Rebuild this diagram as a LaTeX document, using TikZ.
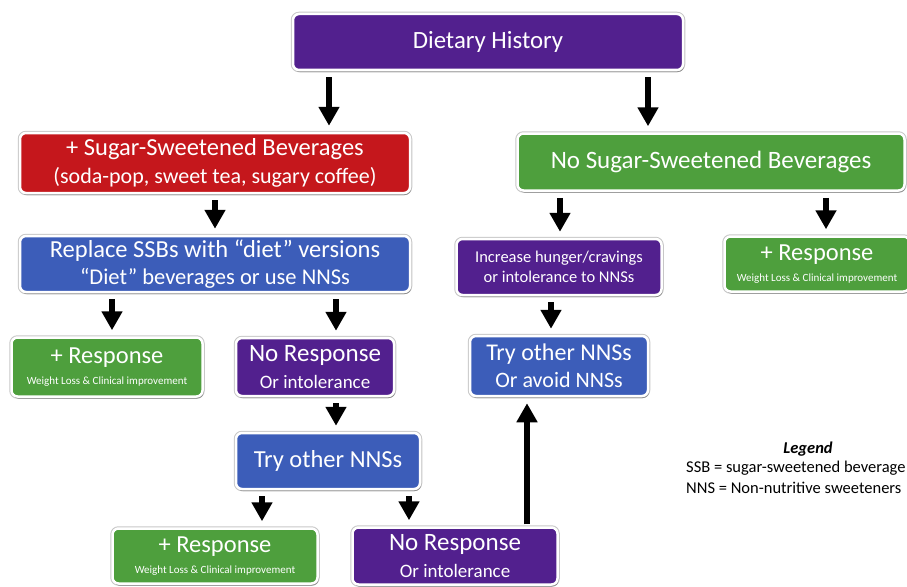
\documentclass[tikz,border=0pt]{standalone}
\usepackage{fontspec}
\setmainfont{Carlito}
\usetikzlibrary{arrows.meta,shadows}

\definecolor{dhpurple}{HTML}{52208E}
\definecolor{dhred}{HTML}{C5171C}
\definecolor{dhgreen}{HTML}{4E9F3D}
\definecolor{dhblue}{HTML}{3C5DB9}

\begin{document}
\begin{tikzpicture}[x=1pt,y=-1pt,
		box/.style={rounded corners=6pt,draw=white,line width=2.5pt,text=white,align=center,inner sep=0pt,
			preaction={draw=black!22,line width=4.5pt},
			drop shadow={shadow xshift=1pt,shadow yshift=-2pt,fill=black,opacity=.3}},
		arr/.style={line width=5.5pt,-{Triangle[width=20pt,length=19pt]},shorten <=6pt,shorten >=6pt},
		fs/.style={font=\fontsize{#1}{#1}\selectfont}]
			\useasboundingbox (0,0) rectangle (907,586);
			% boxes
			\node[box,fill=dhpurple,minimum width=390pt,minimum height=56pt,fs=24.8] (diet) at (488,42) {Dietary History};
			\node[box,fill=dhred,minimum width=390pt,minimum height=60pt,fs=24.5] (ssb) at (215,163)
				{+ Sugar-Sweetened Beverages\\[4pt]{\fontsize{22}{22}\selectfont (soda-pop, sweet tea, sugary coffee)}};
			\node[box,fill=dhgreen,minimum width=387pt,minimum height=57pt,fs=25] (nossb) at (711,162) {No Sugar-Sweetened Beverages};
			\node[box,fill=dhblue,minimum width=390pt,minimum height=56pt,fs=24.5] (repl) at (215,264)
				{Replace SSBs with “diet” versions\\[2pt]{\fontsize{22.5}{22.5}\selectfont “Diet” beverages or use NNSs}};
			\node[box,fill=dhpurple,minimum width=205pt,minimum height=56pt,fs=16.5] (hunger) at (559,267)
				{Increase hunger/cravings\\[3pt]or intolerance to NNSs};
			\node[box,fill=dhgreen,minimum width=185pt,minimum height=55pt,fs=24.5] (resR) at (817,264)
				{+ Response\\[-3pt]{\fontsize{11}{11}\selectfont Weight Loss \& Clinical improvement}};
			\node[box,fill=dhgreen,minimum width=191pt,minimum height=59pt,fs=24.5] (resL) at (107,367)
				{+ Response\\[-3pt]{\fontsize{11}{11}\selectfont Weight Loss \& Clinical improvement}};
			\node[box,fill=dhpurple,minimum width=158pt,minimum height=58pt,fs=25] (noresp) at (315,367)
				{No Response\\[2pt]{\fontsize{19}{19}\selectfont Or intolerance}};
			\node[box,fill=dhblue,minimum width=178pt,minimum height=60pt,fs=24] (avoid) at (559,366)
				{Try other NNSs\\[3pt]{\fontsize{22}{22}\selectfont Or avoid NNSs}};
			\node[box,fill=dhblue,minimum width=184pt,minimum height=56pt,fs=24.5] (try) at (328,461) {Try other NNSs};
			\node[box,fill=dhgreen,minimum width=205pt,minimum height=55pt,fs=24.5] (resB) at (215,556)
				{+ Response\\[-3pt]{\fontsize{11}{11}\selectfont Weight Loss \& Clinical improvement}};
			\node[box,fill=dhpurple,minimum width=205pt,minimum height=57pt,fs=25] (norespB) at (455,556)
				{No Response\\[2pt]{\fontsize{19}{19}\selectfont Or intolerance}};
			% legend
			\node[fs=16.5] (legtitle) at (808,449) {\textbf{\textit{Legend}}};
			\node[fs=16.5,anchor=north west,align=left,inner sep=0pt] (legtext) at (686,461)
				{SSB = sugar-sweetened beverage\\[4pt]NNS = Non-nutritive sweeteners};
			% arrows
			\draw[arr] (diet.south -| 329,0) -- (ssb.north -| 329,0);
			\draw[arr] (diet.south -| 648,0) -- (nossb.north -| 648,0);
			\draw[arr] (ssb.south -| 215,0) -- (repl.north -| 215,0);
			\draw[arr] (nossb.south -| 560,0) -- (hunger.north -| 560,0);
			\draw[arr] (nossb.south -| 826,0) -- (resR.north -| 826,0);
			\draw[arr] (repl.south -| 112,0) -- (resL.north -| 112,0);
			\draw[arr] (repl.south -| 336,0) -- (noresp.north -| 336,0);
			\draw[arr] (hunger.south -| 551,0) -- (avoid.north -| 551,0);
			\draw[arr] (noresp.south -| 336,0) -- (try.north -| 336,0);
			\draw[arr] (try.south -| 262,0) -- (resB.north -| 262,0);
			\draw[arr] (try.south -| 409,0) -- (norespB.north -| 409,0);
			\draw[arr,shorten <=2pt] (norespB.north -| 527,0) -- (avoid.south -| 527,0);
		\end{tikzpicture}
\end{document}
